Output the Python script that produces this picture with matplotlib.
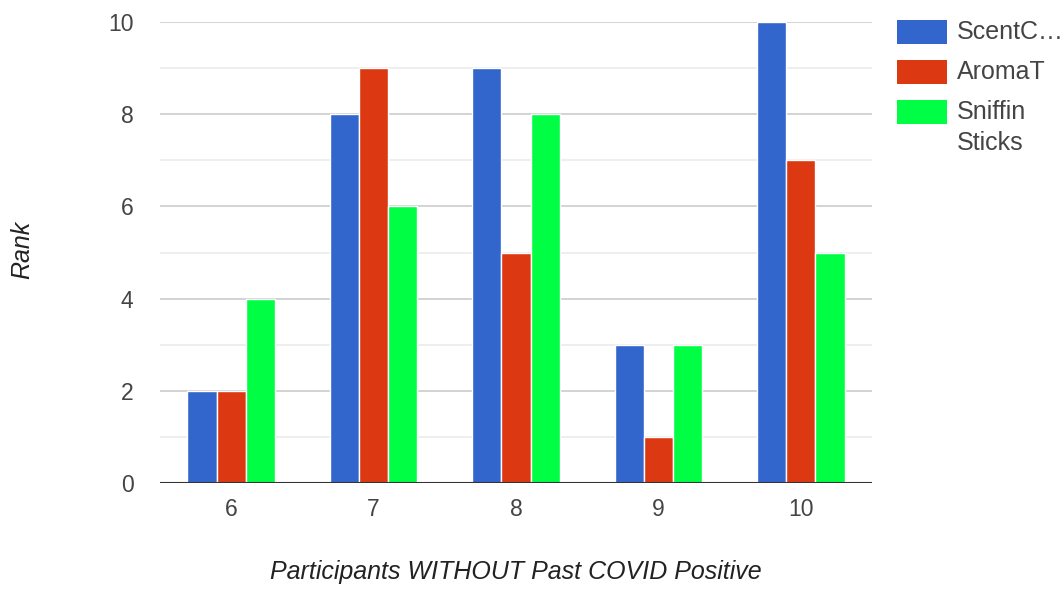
import numpy as np
import matplotlib.pyplot as plt
from matplotlib.ticker import MultipleLocator
from matplotlib.patches import Rectangle

# data
participants = ['6', '7', '8', '9', '10']
scentc = [2, 8, 9, 3, 10]
aromat = [2, 9, 5, 1, 7]
sniffin = [4, 6, 8, 3, 5]

series_labels = ['ScentC…', 'AromaT', 'Sniffin\nSticks']
colors = ['#3366cc', '#dc3912', '#00ff44']

plt.rcParams['font.family'] = ['Liberation Sans', 'DejaVu Sans']

W, H = 1064, 592
fig = plt.figure(figsize=(W / 100, H / 100), dpi=100)
ax = fig.add_axes([160 / W, 1 - 483 / H, 712 / W, 461 / H])

x = np.arange(len(participants))
w = 0.205
for i, (vals, col) in enumerate(zip([scentc, aromat, sniffin], colors)):
    ax.bar(x + (i - 1) * w, vals, width=w, color=col, edgecolor='white',
           linewidth=1, zorder=3)

ax.set_xlim(-0.5, len(participants) - 0.5)
ax.set_ylim(0, 10)
ax.yaxis.set_major_locator(MultipleLocator(2))
ax.yaxis.set_minor_locator(MultipleLocator(1))
ax.grid(True, which='major', axis='y', color='#cccccc', linewidth=1.2, zorder=0)
ax.grid(True, which='minor', axis='y', color='#ebebeb', linewidth=1.2, zorder=0)
ax.axhline(0, color='#333333', linewidth=1.5, zorder=4)

for s in ax.spines.values():
    s.set_visible(False)

ax.set_xticks(x)
ax.set_xticklabels(participants)
ax.tick_params(axis='both', which='both', length=0, labelsize=16.5, colors='#444444')
ax.tick_params(axis='x', pad=11)
ax.tick_params(axis='y', pad=19)

# axis titles
fig.text(516 / W, 1 - 572 / H, 'Participants WITHOUT Past COVID Positive',
         fontsize=18, style='italic', color='#222222', ha='center', va='center')
fig.text(22 / W, 1 - 250 / H, 'Rank', fontsize=18, style='italic',
         color='#222222', ha='center', va='center', rotation=90)

# legend, drawn by hand like the Google chart
patch_tops = [20, 60, 100]
for top, col, lab in zip(patch_tops, colors, series_labels):
    fig.add_artist(Rectangle((897 / W, 1 - (top + 24) / H), 50 / W, 24 / H,
                             transform=fig.transFigure, facecolor=col,
                             edgecolor='none'))
    fig.text(957 / W, 1 - (top + 12) / H, lab.split('\n')[0], fontsize=18,
             color='#444444', ha='left', va='center')
    if '\n' in lab:
        fig.text(957 / W, 1 - (top + 43) / H, lab.split('\n')[1], fontsize=18,
                 color='#444444', ha='left', va='center')

fig.savefig('out.png', dpi=100)
